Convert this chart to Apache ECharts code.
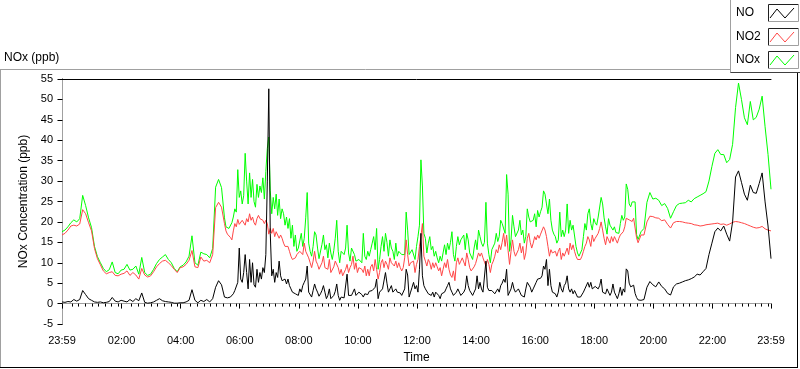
<!DOCTYPE html>
<html>
<head>
<meta charset="utf-8">
<script src="https://cdn.jsdelivr.net/npm/echarts@6/dist/echarts.min.js"></script>
<style>
html,body{margin:0;padding:0;background:#ffffff;}
#chart{width:800px;height:369px;}
</style>
</head>
<body>
<div id="chart"></div>
<script>
// Sampling schedule (minutes after midnight; -1 = 23:59 of the previous day).
// 6-minute samples, 3-minute samples through the noisy daytime period, then 6-minute again.
const sampleSegments = [
  {from: -1,   step: 6, count: 55},
  {from: 329,  step: 3, count: 281},
  {from: 1175, step: 6, count: 45}
];

// NO (ppb)
const noValues = [
  // 23:59 - 05:23 (6 min)
  0.4,0.3,0.5,0.4,1.0,0.6,1.0,3.2,2.2,1.2,
  0.8,0.4,0.3,0.4,0.2,0.3,0.5,1.5,0.6,0.4,
  0.8,0.6,0.4,1.0,0.5,1.2,0.7,2.6,0.3,0.1,
  0.2,0.4,0.8,1.2,0.7,0.5,0.4,0.3,0.1,0.1,
  0.2,0.2,0.4,0.8,3.4,0.8,0.2,0.8,0.5,1.0,
  0.4,1.2,4.0,5.6,4.6,
  // 05:29 - 19:29 (3 min)
  1.6,1.2,1.4,1.6,1.6,2.0,2.4,3.2,2.8,5.2,
  13.6,6.0,5.2,7.6,12.0,7.6,3.6,10.8,5.2,10.0,
  4.6,4.0,8.4,5.2,7.6,6.0,8.8,7.6,12.0,30.0,
  52.6,17.2,6.8,8.4,5.2,7.6,6.4,10.4,6.8,5.6,
  5.2,6.0,4.8,6.0,4.4,3.6,2.8,3.2,2.4,2.0,
  2.0,3.6,2.8,4.4,5.2,6.0,9.2,2.8,2.4,1.6,
  3.2,4.8,3.6,2.8,1.8,2.4,3.2,4.4,2.8,1.2,
  2.0,3.6,1.2,0.8,2.0,3.0,4.8,2.0,0.8,1.6,
  1.2,1.4,
  1.2,7.2,2.0,1.6,2.0,2.8,3.6,2.0,1.6,2.8,
  2.6,2.2,1.6,2.4,2.0,2.2,3.0,3.0,3.2,2.8,
  4.0,6.0,1.2,2.8,2.4,3.6,4.0,7.6,5.0,2.8,
  3.6,4.4,2.8,2.4,3.6,2.8,3.2,2.6,2.0,2.4,
  3.6,8.4,7.0,1.6,2.8,4.0,5.2,3.6,4.4,2.8,
  8.4,17.2,6.8,4.4,3.6,3.2,2.4,2.8,2.0,2.8,
  1.6,2.8,2.4,2.0,1.2,2.4,2.0,2.8,3.6,4.4,
  5.2,3.6,2.8,2.0,1.6,2.8,3.6,2.8,2.0,2.4,
  2.8,3.6,6.8,4.4,3.2,2.8,2.0,2.8,3.6,6.8,
  3.6,5.2,3.6,2.8,3.0,
  10.4,4.0,3.2,2.8,3.2,2.8,2.4,2.8,3.6,2.8,
  4.4,5.0,6.0,5.2,8.4,2.0,1.8,3.6,5.2,3.6,
  2.8,2.8,3.6,2.8,2.0,2.4,1.6,3.6,5.2,4.8,
  4.0,2.8,3.6,4.0,5.2,6.0,5.6,6.2,6.8,9.2,
  8.4,10.8,4.4,8.4,4.4,2.8,2.5,2.4,1.6,2.8,
  5.2,3.6,2.8,4.4,5.0,6.8,3.6,2.8,3.6,2.4,
  3.2,2.8,1.6,1.2,1.6,2.0,2.8,3.6,3.2,5.2,
  4.0,5.2,3.6,4.0,4.2,4.4,3.6,4.4,6.0,2.8,
  2.6,2.4,3.6,3.2,2.0,2.8,4.8,2.8,2.0,1.2,
  2.4,4.0,2.0,3.6,2.8,
  8.5,8.0,5.0,4.1,3.7,4.5,2.5,1.5,0.9,
  // 19:35 - 23:59 (6 min)
  0.8,1.0,4.0,5.4,
  4.6,4.1,5.3,4.2,3.6,2.5,2.1,4.1,4.8,5.0,
  5.3,5.6,5.8,6.1,6.5,7.2,7.0,7.8,8.6,12.0,
  14.8,17.6,18.5,17.8,19.0,17.0,15.3,20.0,31.0,32.5,
  29.7,26.8,25.3,29.0,27.2,27.0,29.4,32.0,24.9,19.0,
  11.0
];

// NO2 (ppb)
const no2Values = [
  16.8,17.2,18.0,19.0,19.2,19.0,19.5,23.0,22.0,19.8,
  17.8,13.5,11.0,9.5,8.0,7.3,7.6,7.8,6.9,6.8,
  7.2,7.4,8.0,6.9,7.6,7.0,6.0,8.6,7.0,6.5,
  6.8,7.8,9.0,9.8,10.4,10.6,10.0,9.3,8.4,7.6,
  8.8,9.0,9.6,10.6,13.0,9.0,8.8,11.4,10.4,10.6,
  10.0,12.0,23.5,24.8,23.6,
  19.6,17.8,17.0,16.6,16.2,15.6,17.8,19.6,18.8,20.6,
  19.4,19.2,20.4,20.0,19.2,20.8,20.0,22.0,20.4,21.2,
  19.8,19.2,20.8,21.6,20.8,21.2,20.4,19.6,20.4,19.6,
  17.0,18.4,17.2,18.4,16.4,17.6,17.2,16.0,16.8,16.0,
  14.8,14.0,13.6,14.0,12.8,11.6,10.8,10.4,11.2,12.0,
  12.0,12.8,12.4,12.0,14.8,12.8,12.4,11.2,10.0,8.8,
  10.4,12.8,10.4,9.6,8.4,8.2,10.0,11.6,8.8,9.2,
  8.4,10.8,7.6,7.2,9.0,10.4,10.4,8.8,7.2,8.4,
  6.8,7.0,
  8.4,9.6,7.6,8.8,9.6,11.6,8.4,10.0,7.6,8.8,
  8.6,8.4,7.6,9.2,6.8,8.4,6.8,9.0,9.6,8.0,
  10.8,8.4,6.0,7.6,10.0,10.8,8.8,10.4,9.6,8.4,
  11.2,10.0,10.4,9.2,10.4,8.8,10.0,8.8,8.0,8.8,
  11.2,15.6,12.0,9.2,10.0,10.4,10.4,7.6,9.6,10.8,
  14.0,16.4,19.6,11.6,10.4,9.2,10.8,10.0,8.4,10.0,
  8.8,10.0,9.0,8.0,8.8,6.8,8.4,10.0,8.8,10.8,
  8.4,7.0,6.4,8.0,5.6,10.0,11.2,9.6,10.4,11.2,
  11.6,9.2,12.4,10.8,8.8,8.0,7.6,9.0,9.8,10.0,
  12.4,11.6,12.4,11.2,11.0,
  9.2,10.8,9.6,7.6,9.6,10.4,11.6,13.2,12.4,14.4,
  13.2,15.0,17.2,14.0,16.8,13.0,9.6,12.8,15.6,12.8,
  11.6,11.6,13.2,14.8,12.4,14.0,10.8,12.4,16.0,17.2,
  15.0,13.6,14.8,16.4,15.6,16.8,16.0,17.0,17.2,18.8,
  18.0,16.4,14.0,11.6,13.2,12.4,12.6,12.8,11.6,12.8,
  13.6,10.8,12.4,11.6,12.0,13.6,12.0,14.8,13.2,14.4,
  12.8,11.6,10.8,10.4,10.8,11.6,12.8,14.0,14.8,16.4,
  15.6,14.0,16.8,15.2,16.0,16.4,17.2,18.4,20.0,18.0,
  16.0,14.4,16.4,15.6,14.8,16.4,15.2,16.4,15.6,14.8,
  16.0,16.8,16.4,17.6,18.8,
  20.9,20.5,20.5,20.9,20.1,20.9,20.5,16.1,14.9,
  16.8,16.8,20.0,21.4,
  21.3,21.0,20.9,20.3,20.5,19.4,18.5,19.8,20.1,20.1,
  20.0,19.8,19.7,19.6,19.3,19.2,19.0,19.1,19.3,19.4,
  19.5,19.6,19.7,19.4,19.5,19.2,19.5,19.9,20.1,20.0,
  19.8,19.6,19.3,19.0,18.7,18.5,18.6,18.9,18.3,18.0,
  17.8
];

// NOx (ppb)
const noxValues = [
  17.6,18.0,18.8,19.8,20.5,20.0,20.8,26.5,24.0,21.0,
  18.6,14.0,11.5,10.0,8.6,7.8,8.3,10.2,7.6,7.3,
  8.2,8.4,9.6,8.2,8.4,9.2,7.2,11.3,7.6,6.9,
  7.2,8.4,9.8,10.8,11.4,12.0,10.8,10.0,8.6,7.8,
  9.0,9.4,10.2,11.6,16.6,10.0,9.4,12.6,12.2,12.0,
  11.2,13.5,28.5,30.4,28.4,
  21.0,18.8,18.6,18.4,18.2,19.8,21.2,23.2,22.4,32.8,
  26.0,27.6,24.4,26.4,36.8,30.0,24.4,32.0,26.0,30.4,
  25.0,23.6,29.2,26.0,28.8,27.2,30.8,25.6,32.4,38.0,
  40.8,27.6,22.0,26.0,23.2,26.8,21.6,25.6,20.8,23.2,
  22.0,19.2,21.2,18.4,20.8,16.0,19.2,14.0,16.8,12.8,
  13.6,14.0,17.2,14.0,16.0,21.0,27.2,14.8,12.8,11.6,
  14.0,17.6,16.8,13.6,11.0,10.8,14.5,16.8,13.2,14.4,
  11.2,14.8,12.4,10.8,13.0,16.0,20.4,12.8,10.0,12.8,
  13.2,12.0,
  13.6,19.2,12.4,10.4,13.6,13.2,12.0,10.4,10.4,10.8,
  10.6,10.0,17.2,11.6,10.8,12.8,11.6,13.2,14.8,16.4,
  13.2,18.4,8.4,10.8,14.0,16.4,12.8,17.2,15.0,11.6,
  15.6,13.6,12.8,10.8,14.8,11.6,12.8,12.4,12.0,12.4,
  12.0,22.4,18.0,12.0,12.4,13.2,13.2,10.8,14.0,16.4,
  19.2,35.2,28.8,17.2,16.0,12.4,14.8,16.4,13.2,14.0,
  11.6,12.8,11.2,10.0,11.6,10.4,12.4,14.4,12.0,14.8,
  13.2,15.0,17.6,12.0,10.4,14.0,16.4,14.4,15.6,16.0,
  16.8,13.2,17.2,15.6,12.4,12.8,10.8,13.6,15.6,13.2,
  18.0,16.4,14.8,14.0,15.0,
  24.8,14.8,12.0,10.0,13.2,12.8,14.8,17.2,15.2,16.4,
  20.4,19.6,19.6,17.2,31.6,26.8,12.8,15.6,21.6,18.8,
  16.4,16.4,18.0,20.4,16.8,18.0,14.8,16.4,23.2,21.2,
  20.0,19.6,20.4,22.0,18.8,22.8,21.2,22.5,23.6,27.6,
  26.8,24.4,22.0,25.6,20.4,18.0,17.0,16.4,14.8,15.6,
  22.4,16.4,18.0,16.4,18.0,24.4,17.2,20.4,18.0,19.2,
  19.6,14.0,12.4,11.6,12.0,13.2,16.4,19.6,18.0,22.0,
  23.2,19.6,18.0,20.8,19.8,19.2,21.2,21.6,26.0,24.4,
  21.0,18.8,17.0,20.8,19.2,19.6,18.0,18.8,17.4,17.0,
  17.2,19.6,21.6,20.4,21.2,
  29.3,28.0,24.4,23.7,24.9,24.5,24.9,16.9,15.7,
  17.6,18.4,24.8,27.2,
  25.6,25.8,25.3,24.0,24.5,23.3,20.9,22.5,24.0,24.5,
  24.6,24.7,25.3,24.9,25.7,26.1,26.5,26.9,27.4,30.0,
  33.6,36.8,37.7,36.5,36.5,34.5,35.3,39.0,48.0,54.0,
  50.0,45.5,43.8,49.5,45.0,45.6,47.6,50.8,43.3,36.5,
  28.0
];

// Axis ticks (minutes after midnight)
const xMajorTicks = [-1,120,240,360,480,600,720,840,960,1080,1200,1320,1439];
const xMinorTicks = [
  20,33,47,60,73,87,100,113,
  140,153,167,180,193,207,220,233,
  260,273,287,300,313,327,340,353,
  380,393,407,420,433,447,460,473,
  500,513,527,540,553,567,580,593,
  620,633,647,660,673,687,700,713,
  740,753,767,780,793,807,820,833,
  860,873,887,900,913,927,940,953,
  980,993,1007,1020,1033,1047,1060,1073,
  1100,1113,1127,1140,1153,1167,1180,1193,
  1220,1233,1247,1260,1273,1287,1300,1313,
  1340,1353,1367,1380,1393,1407,1420,1433
];
const yMin = -5, yMax = 55, yStep = 5;

const seriesNames = ['NO', 'NO2', 'NOx'];
const seriesColors = ['#000000', '#ff4646', '#00ff00'];

// sample times from the schedule
const sampleTimes = [];
sampleSegments.forEach(function (seg) {
  for (let i = 0; i < seg.count; i++) sampleTimes.push(seg.from + i * seg.step);
});
function toPairs(values) {
  return values.map(function (v, i) { return [sampleTimes[i], v]; });
}
function fmtTime(m) {
  if (m < 0 || m >= 1439) return '23:59';
  const h = Math.floor(m / 60), mm = m % 60;
  return (h < 10 ? '0' : '') + h + ':' + (mm < 10 ? '0' : '') + mm;
}

const FONT = '"Liberation Sans", Arial, sans-serif';
const chart = echarts.init(document.getElementById('chart'), null, {renderer: 'canvas'});

// legend drawing (graphic)
const legendGraphics = [];
legendGraphics.push({
  type: 'rect', shape: {x: 730.5, y: -1, width: 80, height: 73.5},
  style: {fill: '#ffffff', stroke: '#a0a0a0', lineWidth: 1}, z: 10
});
legendGraphics.push({
  type: 'line', shape: {x1: 730.5, y1: 72.5, x2: 800, y2: 72.5},
  style: {stroke: '#404040', lineWidth: 1}, z: 11
});
const legendRowTop = [4, 28, 51];
seriesNames.forEach(function (name, i) {
  const y0 = legendRowTop[i];
  legendGraphics.push({
    type: 'text', x: 736, y: y0 + 9,
    style: {text: name, fill: '#000', font: '12px ' + FONT, textVerticalAlign: 'middle'}, z: 12
  });
  legendGraphics.push({
    type: 'polyline', shape: {points: [[768.5, y0 + 17.5], [768.5, y0 + 0.5], [798.5, y0 + 0.5]]},
    style: {stroke: '#202020', fill: null, lineWidth: 1}, z: 12
  });
  legendGraphics.push({
    type: 'polyline', shape: {points: [[768.5, y0 + 17.5], [798.5, y0 + 17.5], [798.5, y0 + 0.5]]},
    style: {stroke: '#a0a0a0', fill: null, lineWidth: 1}, z: 12
  });
  legendGraphics.push({
    type: 'polyline', shape: {points: [[770, y0 + 14], [777, y0 + 5], [785, y0 + 14], [794, y0 + 4]]},
    style: {stroke: seriesColors[i], fill: null, lineWidth: 1}, z: 12
  });
});

const option = {
  animation: false,
  backgroundColor: '#ffffff',
  grid: {left: 62, right: 29, top: 79, bottom: 40, containLabel: false},
  xAxis: [
    {
      type: 'value', min: -1, max: 1439, position: 'bottom', gridIndex: 0,
      axisLine: {show: true, lineStyle: {color: '#a0a0a0', width: 1}},
      axisTick: {show: true, customValues: xMajorTicks, length: 5, lineStyle: {color: '#000'}},
      axisLabel: {show: true, customValues: xMajorTicks, formatter: fmtTime, color: '#000',
        fontFamily: FONT, fontSize: 11, margin: 11, showMinLabel: true, showMaxLabel: true},
      splitLine: {show: false},
      name: 'Time', nameLocation: 'middle', nameGap: 28,
      nameTextStyle: {color: '#000', fontFamily: FONT, fontSize: 12}
    },
    {
      type: 'value', min: -1, max: 1439, position: 'bottom', gridIndex: 0,
      axisLine: {show: false},
      axisTick: {show: true, customValues: xMinorTicks, length: 3, lineStyle: {color: '#000'}},
      axisLabel: {show: false},
      splitLine: {show: false}
    },
    {
      type: 'value', min: -1, max: 1439, position: 'top', gridIndex: 0,
      axisLine: {show: true, lineStyle: {color: '#000', width: 1}},
      axisTick: {show: false}, axisLabel: {show: false}, splitLine: {show: false}
    }
  ],
  yAxis: [
    {
      type: 'value', min: yMin, max: yMax, interval: yStep, position: 'left',
      axisLine: {show: true, lineStyle: {color: '#000', width: 1}},
      axisTick: {show: true, length: 5, lineStyle: {color: '#000'}},
      axisLabel: {color: '#000', fontFamily: FONT, fontSize: 11, margin: 9},
      splitLine: {show: false},
      name: 'NOx Concentration (ppb)', nameLocation: 'middle', nameGap: 23, nameRotate: 90,
      nameTextStyle: {color: '#000', fontFamily: FONT, fontSize: 12}
    },
    {
      type: 'value', min: yMin, max: yMax, interval: yStep, position: 'right',
      axisLine: {show: true, lineStyle: {color: '#a0a0a0', width: 1}},
      axisTick: {show: false}, axisLabel: {show: false}, splitLine: {show: false}
    }
  ],
  series: [
    {name: 'NOx', type: 'line', data: toPairs(noxValues), showSymbol: false, symbol: 'none',
      lineStyle: {color: seriesColors[2], width: 1}, itemStyle: {color: seriesColors[2]}, silent: true, z: 2},
    {name: 'NO2', type: 'line', data: toPairs(no2Values), showSymbol: false, symbol: 'none',
      lineStyle: {color: seriesColors[1], width: 1}, itemStyle: {color: seriesColors[1]}, silent: true, z: 3},
    {name: 'NO', type: 'line', data: toPairs(noValues), showSymbol: false, symbol: 'none',
      lineStyle: {color: seriesColors[0], width: 1}, itemStyle: {color: seriesColors[0]}, silent: true, z: 4}
  ],
  graphic: [
    {type: 'text', left: 4, top: 52, style: {text: 'NOx (ppb)', fill: '#000', font: '12px ' + FONT}},
    {type: 'line', shape: {x1: 0, y1: 69.5, x2: 731, y2: 69.5}, style: {stroke: '#a0a0a0', lineWidth: 1}},
    {type: 'line', shape: {x1: 0.5, y1: 69.5, x2: 0.5, y2: 367}, style: {stroke: '#a0a0a0', lineWidth: 1}},
    {type: 'line', shape: {x1: 0, y1: 367.5, x2: 798, y2: 367.5}, style: {stroke: '#000', lineWidth: 1}},
    {type: 'line', shape: {x1: 797.5, y1: 69.5, x2: 797.5, y2: 368}, style: {stroke: '#000', lineWidth: 1}}
  ].concat(legendGraphics)
};
chart.setOption(option);
</script>
</body>
</html>
